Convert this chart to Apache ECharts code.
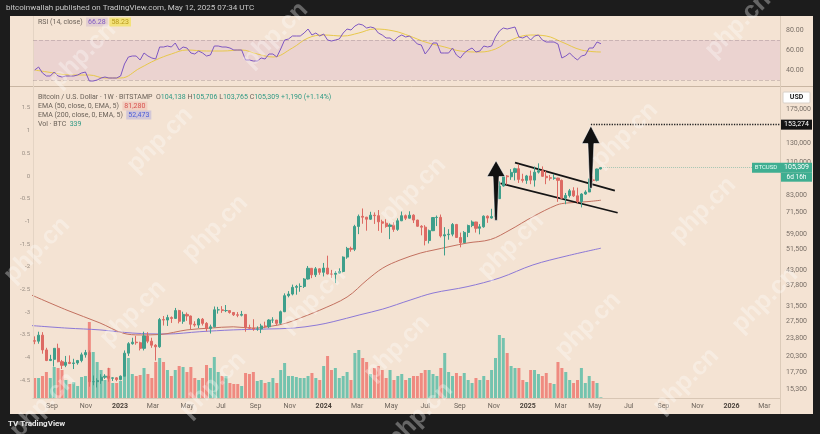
<!DOCTYPE html>
<html>
<head>
<meta charset="utf-8">
<script src="https://cdn.jsdelivr.net/npm/echarts@6/dist/echarts.min.js"></script>
<style>
html,body{margin:0;padding:0;background:#1c1c1c;}
#c{width:820px;height:434px;}
</style>
</head>
<body>
<div id="c"></div>
<script>
// ---------------- DATA ----------------
const firstWeek = '2022-08-01';
const opens = [23300,23200,24450,21500,19600,19800,21800,19400,18800,19300,19100,19200,19600,20600,21000,16300,16300,16450,16950,17100,16800,16850,
16600,17100,20900,22700,23000,22900,21800,24300,23200,22400,22100,28000,27900,28500,28300,30300,27600,29300,28900,26900,26700,28100,27100,25900,26300,30500,30500,30300,30300,29800,29200,29100,29300,26100,26000,25800,25800,26500,26300,27900,27900,27100,30000,34500,35000,37100,37400,37400,39900,43800,41400,43600,
42300,43900,41700,41600,42000,42600,48300,52100,51700,63100,68900,68400,67200,69600,69300,65700,64900,63100,63900,61500,66300,69300,67800,69600,66700,63200,62700,55800,60800,68200,68300,58100,58700,59000,64200,57300,54800,59900,63600,65600,62100,62900,69000,67900,68800,80400,89800,98000,97300,101100,104400,95100,94300,
98000,94500,101300,102600,97700,96500,96100,96200,94300,80700,82600,86100,82400,78400,83700,85200,94700,94300,104138];
const closes = [23200,24450,21500,19600,19800,21800,19400,18800,19300,19100,19200,19600,20600,21000,16300,16300,16450,16950,17100,16800,16850,16600,
17100,20900,22700,23000,22900,21800,24300,23200,22400,22100,28000,27900,28500,28300,30300,27600,29300,28900,26900,26700,28100,27100,25900,26300,30500,30500,30300,30300,29800,29200,29100,29300,26100,26000,25800,25800,26500,26300,27900,27900,27100,30000,34500,35000,37100,37400,37400,39900,43800,41400,43600,42300,
43900,41700,41600,42000,42600,48300,52100,51700,63100,68900,68400,67200,69600,69300,65700,64900,63100,63900,61500,66300,69300,67800,69600,66700,63200,62700,55800,60800,68200,68300,58100,58700,59000,64200,57300,54800,59900,63600,65600,62100,62900,69000,67900,68800,80400,89800,98000,97300,101100,104400,95100,94300,98000,
94500,101300,102600,97700,96500,96100,96200,94300,80700,82600,86100,82400,78400,83700,85200,94700,94300,104100,105309];
const lows = [22600,22700,20800,19500,19500,18600,19300,18200,18500,19000,18200,18900,19300,20100,15600,15800,15500,16000,16700,16300,16400,16350,
16500,17100,20400,22500,22500,21400,21400,22800,21900,19600,21900,26600,26500,27200,28200,27100,27000,27700,25800,26300,26000,26600,25300,24800,26200,29500,29700,29900,29500,28900,28600,28800,25200,25800,25400,25400,24900,26000,26000,27200,26600,26900,29900,34000,34600,34800,35700,36900,39700,40200,40600,41400,
40800,41500,40300,38500,41800,42300,47600,50600,50900,59000,64600,60800,66800,64500,60700,59700,62400,56500,60200,60700,66100,66700,67600,65000,62900,58400,53500,54400,60600,63300,57300,49000,56200,57900,57200,52600,54600,57500,62700,59800,58900,62400,65100,67500,66800,80300,89300,90800,94700,94200,92200,92500,91500,
91200,89300,100100,97300,91200,94100,94800,78200,80000,76600,81200,81600,77100,74500,83100,85100,92800,93400,103765];
const highs = [24200,25200,25100,21900,20600,21850,22700,19700,20400,20500,19900,19700,21000,21500,21400,17200,16800,17400,17400,18400,16900,16950,
17200,21400,23000,23900,24300,23100,25200,25100,23900,22600,28400,28900,29200,28800,31000,30500,30000,29800,29000,27600,28400,28400,27400,26800,31400,31300,31500,31800,30400,29900,29900,30200,29400,26800,28100,26400,27000,27500,28100,28600,27900,30300,35200,35900,38000,37900,38400,40200,44700,43900,44300,43800,
45900,48900,43200,42800,43800,48600,52800,52900,64000,70000,73800,68600,71700,71300,72800,66900,67200,64800,65500,67700,71900,70000,72000,70200,66900,63800,63800,61400,68400,69400,70000,62700,61600,65000,64500,59800,60600,64100,66500,65700,64400,69500,69500,73600,81500,93500,99600,98700,104000,105300,108400,99900,98900,
102700,106400,109400,106500,102500,98800,99500,96500,95000,84500,87500,88800,88500,84300,86500,95800,97900,104400,105706];
const volumes = [10000,10000,11000,13000,10000,15500,15000,14000,9000,7000,8000,6000,10500,11000,38000,23000,18000,14000,9000,15000,7500,7500,
8500,21500,20000,12000,11000,11500,15000,12000,10000,18000,20000,18000,14000,11000,14000,16000,15500,13000,15500,10000,9000,10000,16500,15000,20500,13000,11000,11000,7500,7000,7000,6000,12500,12000,13000,8500,9000,7500,8000,10000,7500,14000,17500,11000,11000,10500,10000,10000,11000,12500,10000,9000,
16000,21000,14000,15000,10000,11000,13000,9000,22500,24000,20000,18000,12000,15000,16000,14000,10000,14000,9000,11000,12000,9000,10000,11000,11000,12500,14000,14000,12000,11000,15000,22500,13000,11000,12500,11000,12500,9000,7500,10000,9000,11000,9000,14000,20000,31500,30000,22500,16000,15000,15000,9000,8000,
14000,14000,12000,11000,12500,7500,7000,18000,15000,13000,9000,7500,9000,15000,7500,11000,8500,7500,339];
const rsiValues = [40,43,37,34,34,38,34,33,34,34,34,35,37,38,29,29,30,32,33,32,32,32,
34,46,53,54,54,50,57,54,52,51,63,63,64,63,67,60,63,62,57,56,59,57,54,55,64,64,63,63,62,60,60,60,50,50,49,49,52,51,56,56,53,61,70,71,74,74,74,77,81,75,77,74,
76,70,69,70,71,77,81,80,84,86,85,82,83,82,77,75,72,72,69,73,75,73,74,70,66,65,56,61,67,67,57,57,57,62,55,52,57,60,62,58,59,64,63,64,73,79,82,81,82,83,73,72,74,
70,74,75,70,68,68,68,66,52,54,57,53,50,54,55,62,62,68,66.28];
const rsiMaPoints = [['2022-08-01',40],['2022-09-05',37],['2022-10-03',35],['2022-11-07',35],['2022-12-05',32],['2023-01-02',32],['2023-02-06',42],['2023-03-06',50],['2023-04-03',56],['2023-05-01',60],['2023-06-05',59],['2023-07-03',59],['2023-08-07',60],['2023-09-04',56],['2023-10-02',53],['2023-11-06',62],['2023-12-04',72],['2024-01-01',75],['2024-02-05',74],['2024-03-04',77],['2024-04-01',81],['2024-05-06',79],['2024-06-03',74],['2024-07-01',68],['2024-08-05',63],['2024-09-02',59],['2024-10-07',58],['2024-11-04',61],['2024-12-02',70],['2025-01-06',75],['2025-02-03',74],['2025-03-03',68],['2025-04-07',60],['2025-05-12',58]];
const ema50Points = [['2022-07-25',34800],['2022-09-28',30400],['2022-11-26',27200],['2023-01-06',24900],['2023-02-06',24500],['2023-03-14',24600],['2023-05-01',25600],['2023-06-11',26000],['2023-07-23',26300],['2023-08-27',26000],['2023-10-02',26500],['2023-10-27',27200],['2023-11-20',28400],['2023-12-25',30400],['2024-02-12',34100],['2024-03-19',39600],['2024-04-16',43900],['2024-05-17',47100],['2024-06-22',50000],['2024-07-15',51300],['2024-09-14',54600],['2024-10-26',56300],['2024-11-30',61200],['2025-01-10',68700],['2025-02-22',76100],['2025-03-12',77400],['2025-04-17',78300],['2025-05-12',79300]];
const ema200Points = [['2022-07-25',26600],['2022-09-28',26000],['2022-11-26',25600],['2023-01-24',24900],['2023-03-26',24700],['2023-05-24',25200],['2023-07-23',25600],['2023-09-21',25800],['2023-11-07',26000],['2023-12-20',26700],['2024-01-18',27500],['2024-03-06',29200],['2024-04-16',30700],['2024-06-04',33200],['2024-07-15',35300],['2024-09-14',37300],['2024-11-12',40300],['2025-01-10',45100],['2025-03-12',48800],['2025-05-12',52200]];
const priceTicks = [15300,17700,20300,23800,27500,31500,37800,43000,51500,59000,71500,83000,110000,130000,175000];
const rsiTicks = [40,60,80];
const leftTicks = [1.5,1,0.5,0,-0.5,-1,-1.5,-2,-2.5,-3,-3.5,-4,-4.5];
const timeTicks = ['2022-09-01','2022-11-01','2023-01-01','2023-03-01','2023-05-01','2023-07-01','2023-09-01','2023-11-01','2024-01-01','2024-03-01','2024-05-01','2024-07-01','2024-09-01','2024-11-01','2025-01-01','2025-03-01','2025-05-01','2025-07-01','2025-09-01','2025-11-01','2026-01-01','2026-03-01'];
const monthNames = ['Jan','Feb','Mar','Apr','May','Jun','Jul','Aug','Sep','Oct','Nov','Dec'];
// arrows: [date, bottom price, head base price, tip price]
const arrows = [['2024-11-05',66500,97500,112000],['2025-04-24',88000,130000,151600]];
const channelLines = [[['2024-12-09',110000],['2025-06-06',86200]],[['2024-11-13',91900],['2025-06-11',71100]]];
const targetLevel = 153274, targetStart = '2025-04-24';
const lastPrice = 105309, lastWeek = '2025-05-12';
const countdown = '6d 16h';
const headerValues = {o:'104,138',h:'105,706',l:'103,765',c:'105,309',chg:'+1,190 (+1.14%)',ema50:'81,280',ema200:'52,473',vol:'339',rsi:'66.28',rsiMa:'58.23'};

// ---------------- STYLE ----------------
const BG = '#f4e3d3';
const UP = '#3f9f8b', DN = '#dd6a63';
const VOL_UP = '#74c3ae', VOL_DN = '#ef8a80';
const TXT = '#6b6259';
const FONT = 'Roboto, "Noto Sans", sans-serif';

const DAY = 86400000;
const ts = s => Date.parse(s + 'T00:00:00Z');
const t0 = ts(firstWeek);
const weeks = opens.map((_, i) => t0 + i * 7 * DAY);
const xMin = ts('2022-07-29'), xMax = ts('2026-03-29');

const candleData = weeks.map((t, i) => [t, opens[i], closes[i], lows[i], highs[i]]);
const volData = weeks.map((t, i) => ({value: [t, volumes[i]], itemStyle: {color: closes[i] >= opens[i] ? VOL_UP : VOL_DN}}));
const rsiData = weeks.map((t, i) => [t, rsiValues[i]]);
const toPts = arr => arr.map(p => [ts(p[0]), p[1]]);

const chart = echarts.init(document.getElementById('c'));

const wmPos = [[83,55],[275,35],[738,25],[160,140],[37,250],[215,228],[133,313],[313,300],[397,348],[413,190],[511,246],[703,210],[588,325],[765,300],[625,135],[686,381],[213,385],[43,405],[420,415]];
const watermarks = wmPos.map(p => ({type:'text', x:p[0], y:p[1], rotation:Math.PI/4, z:50, silent:true,
  style:{text:'php.cn', fill:'rgba(255,255,255,0.33)', font:'bold 25px "Liberation Sans", sans-serif', align:'center', verticalAlign:'middle'}}));

const frame = [
  {type:'rect', shape:{x:0,y:0,width:820,height:16}, style:{fill:'#1c1c1c'}, z:40, silent:true},
  {type:'rect', shape:{x:0,y:414,width:820,height:20}, style:{fill:'#1c1c1c'}, z:40, silent:true},
  {type:'rect', shape:{x:0,y:0,width:10,height:434}, style:{fill:'#1c1c1c'}, z:40, silent:true},
  {type:'rect', shape:{x:813,y:0,width:7,height:434}, style:{fill:'#1c1c1c'}, z:40, silent:true},
  {type:'line', shape:{x1:10,y1:86.5,x2:813,y2:86.5}, style:{stroke:'#c9b6a3',lineWidth:1}, z:5, silent:true},
  {type:'line', shape:{x1:780.5,y1:16,x2:780.5,y2:414}, style:{stroke:'#dccbb9',lineWidth:1}, z:5, silent:true},
  {type:'line', shape:{x1:33.5,y1:16,x2:33.5,y2:398}, style:{stroke:'#e4d4c4',lineWidth:1}, z:5, silent:true},
  {type:'text', x:6, y:8, z:60, style:{text:'bitcoinwallah published on TradingView.com, May 12, 2025 07:34 UTC', fill:'#c9c9c9', font:'8px ' + FONT, verticalAlign:'middle'}},
  {type:'text', x:8, y:424, z:60, style:{text:'TV TradingView', fill:'#e8e8e8', font:'bold 8px ' + FONT, verticalAlign:'middle'}},
  {type:'text', x:38, y:22, z:30, style:{text:'RSI (14, close)  {p|' + headerValues.rsi + '} {y|' + headerValues.rsiMa + '}', fill:TXT, font:'7px ' + FONT, verticalAlign:'middle',
    rich:{p:{fill:'#7e57c2', backgroundColor:'rgba(126,87,194,0.15)', padding:[1,2], font:'7px ' + FONT}, y:{fill:'#b89a1c', backgroundColor:'#f3e27a', padding:[1,2], font:'7px ' + FONT}}}},
  {type:'text', x:38, y:97, z:30, style:{text:'Bitcoin / U.S. Dollar · 1W · BITSTAMP  O{g|' + headerValues.o + '} H{g|' + headerValues.h + '} L{g|' + headerValues.l + '} C{g|' + headerValues.c + '} {g|' + headerValues.chg + '}', fill:TXT, font:'7px ' + FONT, verticalAlign:'middle',
    rich:{g:{fill:'#2f9a84', font:'7px ' + FONT}}}},
  {type:'text', x:38, y:106, z:30, style:{text:'EMA (50, close, 0, EMA, 5)  {r|' + headerValues.ema50 + '}', fill:TXT, font:'7px ' + FONT, verticalAlign:'middle',
    rich:{r:{fill:'#d9534f', backgroundColor:'rgba(230,120,110,0.18)', padding:[1,2], font:'7px ' + FONT}}}},
  {type:'text', x:38, y:115, z:30, style:{text:'EMA (200, close, 0, EMA, 5)  {b|' + headerValues.ema200 + '}', fill:TXT, font:'7px ' + FONT, verticalAlign:'middle',
    rich:{b:{fill:'#4a5bd8', backgroundColor:'rgba(90,100,230,0.22)', padding:[1,2], font:'7px ' + FONT}}}},
  {type:'text', x:38, y:124, z:30, style:{text:'Vol · BTC  {g|' + headerValues.vol + '}', fill:TXT, font:'7px ' + FONT, verticalAlign:'middle',
    rich:{g:{fill:'#2f9a84', font:'7px ' + FONT}}}},
  {type:'rect', shape:{x:783,y:92,width:27,height:11,r:1}, style:{fill:'#ffffff', stroke:'#d8d0c8'}, z:30},
  {type:'text', x:796.5, y:97.5, z:31, style:{text:'USD', fill:'#222', font:'bold 7px ' + FONT, align:'center', verticalAlign:'middle'}}
];

const arrowSeries = {
  type:'custom', xAxisIndex:1, yAxisIndex:1, z:20, silent:true, clip:false,
  data: arrows.map(a => [ts(a[0]), a[1], a[2], a[3]]),
  renderItem: (params, api) => {
    const b = api.coord([api.value(0), api.value(1)]);
    const h = api.coord([api.value(0), api.value(2)]);
    const t = api.coord([api.value(0), api.value(3)]);
    const cx = t[0];
    return {type:'polygon', shape:{points:[[cx,t[1]],[cx+9,h[1]],[cx+3,h[1]],[cx+1.2,b[1]],[cx-1.2,b[1]],[cx-3,h[1]],[cx-9,h[1]]]},
      style:{fill:'#111111', stroke:'rgba(255,255,255,0.55)', lineWidth:1}};
  }
};

const timeLabel = v => { const d = new Date(v); return d.getUTCMonth() === 0 ? '{y|' + d.getUTCFullYear() + '}' : monthNames[d.getUTCMonth()]; };

const option = {
  animation: false,
  backgroundColor: BG,
  textStyle: {fontFamily: FONT},
  grid: [
    {left:33, right:40, top:18, height:67},
    {left:33, right:40, top:88, height:310}
  ],
  xAxis: [
    {type:'value', gridIndex:0, min:xMin, max:xMax, show:false},
    {type:'value', gridIndex:1, min:xMin, max:xMax,
      axisLine:{show:true, lineStyle:{color:'#d8c6b4'}}, axisTick:{show:false}, splitLine:{show:false},
      axisLabel:{customValues: timeTicks.map(ts), hideOverlap:false, color:'#6e655c', fontSize:7, margin:5,
        formatter: timeLabel, rich:{y:{fontWeight:'bold', color:'#4a423b', fontSize:7}}}}
  ],
  yAxis: [
    {type:'value', gridIndex:0, min:25, max:92, position:'right', axisLine:{show:false}, axisTick:{show:false}, splitLine:{show:false},
      axisLabel:{customValues: rsiTicks, formatter: v => v.toFixed(2), color:'#7a7068', fontSize:7, margin:6}},
    {type:'log', gridIndex:1, min:14137, max:211000, position:'right', axisLine:{show:false}, axisTick:{show:false}, splitLine:{show:false},
      axisLabel:{customValues: priceTicks, hideOverlap:false, formatter: v => Math.round(v).toLocaleString('en-US'), color:'#7a7068', fontSize:7, margin:6}},
    {type:'value', gridIndex:1, min:0, max:155000, show:false},
    {type:'value', gridIndex:1, min:-4.89, max:1.94, position:'left', axisLine:{show:false}, axisTick:{show:false}, splitLine:{show:false},
      axisLabel:{customValues: leftTicks, color:'#9a8f85', fontSize:6, margin:3}}
  ],
  series: [
    {type:'line', name:'RSI', xAxisIndex:0, yAxisIndex:0, data:rsiData, symbol:'none', lineStyle:{color:'#7e57c2', width:1}, z:5,
      markArea:{silent:true, itemStyle:{color:'rgba(190,130,190,0.16)'}, data:[[{yAxis:70},{yAxis:30}]]},
      markLine:{silent:true, symbol:['none','none'], label:{show:false}, lineStyle:{color:'rgba(140,120,130,0.35)', type:'dashed', width:1}, data:[{yAxis:70},{yAxis:30}]}},
    {type:'line', name:'RSI MA', xAxisIndex:0, yAxisIndex:0, data:toPts(rsiMaPoints), smooth:0.4, symbol:'none', lineStyle:{color:'#e8c84a', width:1}, z:4},
    {type:'bar', name:'Volume', xAxisIndex:1, yAxisIndex:2, data:volData, barWidth:3, z:1},
    {type:'line', name:'EMA200', xAxisIndex:1, yAxisIndex:1, data:toPts(ema200Points), smooth:0.35, symbol:'none', lineStyle:{color:'#8c78d6', width:1}, z:3},
    {type:'line', name:'EMA50', xAxisIndex:1, yAxisIndex:1, data:toPts(ema50Points), smooth:0.35, symbol:'none', lineStyle:{color:'#c2705f', width:1}, z:3},
    {type:'candlestick', name:'BTCUSD', xAxisIndex:1, yAxisIndex:1, data:candleData, barWidth:2.6, z:6,
      itemStyle:{color:UP, color0:DN, borderColor:UP, borderColor0:DN, borderWidth:1},
      markLine:{silent:true, symbol:['none','none'], label:{show:false},
        data:[
          [{coord:[ts(channelLines[0][0][0]), channelLines[0][0][1]], lineStyle:{color:'#151515', width:1.8, type:'solid'}}, {coord:[ts(channelLines[0][1][0]), channelLines[0][1][1]]}],
          [{coord:[ts(channelLines[1][0][0]), channelLines[1][0][1]], lineStyle:{color:'#151515', width:1.8, type:'solid'}}, {coord:[ts(channelLines[1][1][0]), channelLines[1][1][1]]}],
          [{coord:[ts(targetStart), targetLevel], lineStyle:{color:'#222', width:1.3, type:'dotted'}}, {coord:[xMax, targetLevel]}],
          [{coord:[ts(lastWeek), lastPrice], lineStyle:{color:'rgba(47,154,132,0.4)', width:1, type:'dotted'}}, {coord:[xMax, lastPrice]}]
        ]}},
    arrowSeries
  ],
  graphic: frame.concat(watermarks)
};
chart.setOption(option);

// price tags on the right axis, positioned from the data values
const yTarget = chart.convertToPixel({yAxisIndex:1}, targetLevel);
const yLast = chart.convertToPixel({yAxisIndex:1}, lastPrice);
chart.setOption({graphic: frame.concat(watermarks).concat([
  {type:'rect', shape:{x:781,y:yTarget-5,width:31,height:10}, style:{fill:'#131313'}, z:32},
  {type:'text', x:796.5, y:yTarget, z:33, style:{text:targetLevel.toLocaleString('en-US'), fill:'#fff', font:'7px ' + FONT, align:'center', verticalAlign:'middle'}},
  {type:'rect', shape:{x:752,y:yLast-5,width:60,height:10}, style:{fill:'#3fae91'}, z:32},
  {type:'text', x:766, y:yLast, z:33, style:{text:'BTCUSD', fill:'#e9fff7', font:'6px ' + FONT, align:'center', verticalAlign:'middle'}},
  {type:'text', x:796.5, y:yLast, z:33, style:{text:lastPrice.toLocaleString('en-US'), fill:'#fff', font:'7px ' + FONT, align:'center', verticalAlign:'middle'}},
  {type:'rect', shape:{x:781,y:yLast+5,width:31,height:9}, style:{fill:'#3fae91'}, z:32},
  {type:'text', x:796.5, y:yLast+9.5, z:33, style:{text:countdown, fill:'#fff', font:'6.5px ' + FONT, align:'center', verticalAlign:'middle'}}
])});
</script>
</body>
</html>
